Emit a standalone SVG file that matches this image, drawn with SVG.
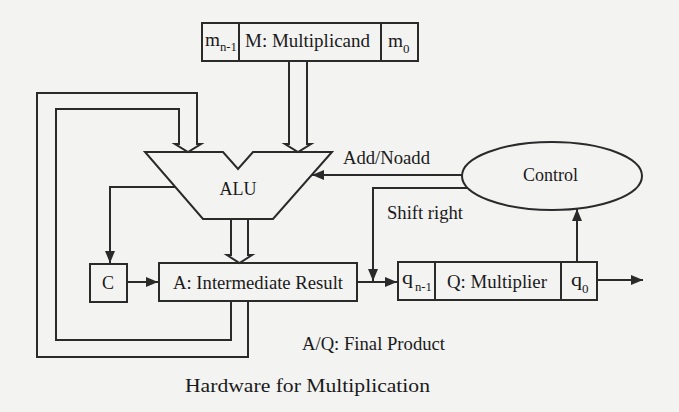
<svg xmlns="http://www.w3.org/2000/svg" width="679" height="412" viewBox="0 0 679 412">
<defs>
<marker id="ah" viewBox="0 0 12 10" refX="12" refY="5" markerWidth="12" markerHeight="10" markerUnits="userSpaceOnUse" orient="auto">
<path d="M0,0 L12,5 L0,10 z" fill="#2a2a2a"/>
</marker>
<style>
.ln{fill:none;stroke:#2a2a2a;stroke-width:2}
.bx{fill:none;stroke:#2a2a2a;stroke-width:2}
.t{font-family:"Liberation Serif","Times New Roman",serif;font-size:18px;fill:#1a1a1a}
.s{font-family:"Liberation Serif","Times New Roman",serif;font-size:13px;fill:#1a1a1a}
</style>
</defs>
<rect width="679" height="412" fill="#f3f3f2"/>
<g id="connectors">
<path class="ln" d="M289 61 V144 H285 L298 152 L311 144 H307 V61"/>
<path class="ln" d="M231 301 V340 H56 V109 H179 V144 H175 L188 152 L201 144 H197 V93 H37 V357 H248 V301"/>
<path class="ln" d="M231 219 V255 H227 L239.5 263 L252 255 H248 V219"/>
<path class="ln" d="M175 187 H110 V263" marker-end="url(#ah)"/>
<path class="ln" d="M127 282 H158" marker-end="url(#ah)"/>
<path class="ln" d="M357 282 H397" marker-end="url(#ah)"/>
<path class="ln" d="M468 188 H373 V281" marker-end="url(#ah)"/>
<path class="ln" d="M462 175 H312" marker-end="url(#ah)"/>
<path class="ln" d="M577 262 V209" marker-end="url(#ah)"/>
<path class="ln" d="M597 280 H643" marker-end="url(#ah)"/>
</g>
<g id="multiplicand">
<rect class="bx" x="202" y="23" width="216" height="38"/>
<line class="ln" x1="239" y1="23" x2="239" y2="61"/>
<line class="ln" x1="381" y1="23" x2="381" y2="61"/>
<text class="t" x="205" y="46" textLength="15" lengthAdjust="spacingAndGlyphs">m</text><text class="s" x="220" y="51" textLength="17" lengthAdjust="spacingAndGlyphs">n-1</text>
<text class="t" x="245" y="47" textLength="125" lengthAdjust="spacingAndGlyphs">M: Multiplicand</text>
<text class="t" x="388" y="47" textLength="15" lengthAdjust="spacingAndGlyphs">m</text><text class="s" x="403" y="53">0</text>
</g>
<g id="alu">
<path class="bx" d="M145 152 H223 L238 169 L253 152 H332 L273 219 H203 Z"/>
<text class="t" x="238" y="195" text-anchor="middle" textLength="37" lengthAdjust="spacingAndGlyphs">ALU</text>
</g>
<g id="c">
<rect class="bx" x="90" y="264" width="37" height="38"/>
<text class="t" x="108" y="289" text-anchor="middle">C</text>
</g>
<g id="a">
<rect class="bx" x="159" y="263" width="198" height="38"/>
<text class="t" x="173" y="289" textLength="170" lengthAdjust="spacingAndGlyphs">A: Intermediate Result</text>
</g>
<g id="q">
<rect class="bx" x="398" y="262" width="199" height="38"/>
<line class="ln" x1="435" y1="262" x2="435" y2="300"/>
<line class="ln" x1="561" y1="262" x2="561" y2="300"/>
<text class="t" x="402" y="284" textLength="11" lengthAdjust="spacingAndGlyphs">q</text><text class="s" x="415" y="291" textLength="17" lengthAdjust="spacingAndGlyphs">n-1</text>
<text class="t" x="447" y="288" textLength="100" lengthAdjust="spacingAndGlyphs">Q: Multiplier</text>
<text class="t" x="571" y="286" textLength="11" lengthAdjust="spacingAndGlyphs">q</text><text class="s" x="582" y="293">0</text>
</g>
<g id="control">
<ellipse class="bx" cx="552" cy="176" rx="90" ry="34"/>
<text class="t" x="523" y="181" textLength="55" lengthAdjust="spacingAndGlyphs">Control</text>
</g>
<g id="labels">
<text class="t" x="343" y="164" textLength="87" lengthAdjust="spacingAndGlyphs">Add/Noadd</text>
<text class="t" x="387" y="219" textLength="76" lengthAdjust="spacingAndGlyphs">Shift right</text>
<text class="t" x="302" y="350" textLength="143" lengthAdjust="spacingAndGlyphs">A/Q: Final Product</text>
<text class="t" x="185" y="392" font-size="22" textLength="245" lengthAdjust="spacingAndGlyphs">Hardware for Multiplication</text>
</g>
</svg>
